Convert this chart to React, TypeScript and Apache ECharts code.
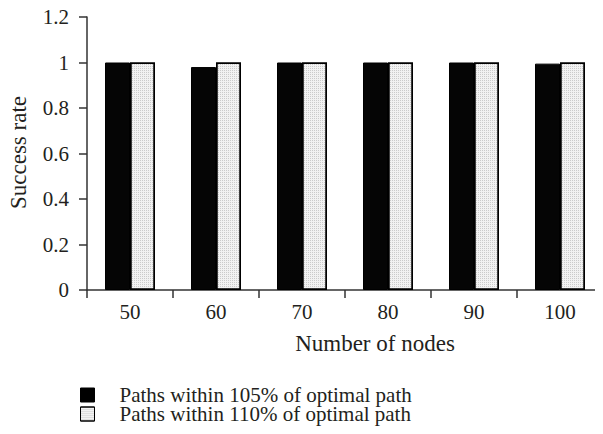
import React, { useEffect, useRef } from "react";
import * as echarts from "echarts";

const categories = ["50", "60", "70", "80", "90", "100"];
const within105 = [1, 0.98, 1, 1, 1, 0.995];
const within110 = [1, 1, 1, 1, 1, 1];
const seriesNames = ["Paths within 105% of optimal path", "Paths within 110% of optimal path"];
const xTitle = "Number of nodes";
const yTitle = "Success rate";

const FONT = "Liberation Serif";
const TXT = "#231f20";

const dotDecal = {
  symbol: "rect",
  symbolSize: 1,
  dashArrayX: [1, 1],
  dashArrayY: [1, 1],
  rotation: 0,
  color: "rgba(0,0,0,0.16)",
};

export default function App() {
  const ref = useRef<HTMLDivElement>(null);
  useEffect(() => {
    const chart = echarts.init(ref.current!, null, { renderer: "svg" });
    const legendBase = {
      orient: "vertical",
      left: 80,
      padding: 0,
      itemWidth: 14,
      itemHeight: 14,
      icon: "rect",
      textStyle: { fontFamily: FONT, fontSize: 21, lineHeight: 18, color: TXT, padding: [0, 0, 0, 20] },
    };
    chart.setOption({
      animation: false,
      backgroundColor: "#ffffff",
      textStyle: { fontFamily: FONT, color: TXT },
      grid: { left: 87, top: 17, width: 522, height: 273, containLabel: false },
      xAxis: {
        type: "category",
        data: categories,
        boundaryGap: true,
        axisLine: { lineStyle: { color: "#333", width: 1.5 } },
        axisTick: { show: true, length: 8, inside: false, lineStyle: { color: "#333", width: 1.5 } },
        axisLabel: { fontFamily: FONT, fontSize: 21, color: TXT, margin: 11 },
      },
      yAxis: {
        type: "value",
        min: 0,
        max: 1.2,
        interval: 0.2,
        splitLine: { show: false },
        axisLine: { show: true, lineStyle: { color: "#333", width: 1.5 } },
        axisTick: { show: true, length: 8, lineStyle: { color: "#333", width: 1.5 } },
        axisLabel: { fontFamily: FONT, fontSize: 21, color: TXT, margin: 18 },
      },
      legend: [
        {
          ...legendBase,
          top: 384.5,
          data: [{ name: seriesNames[0], itemStyle: { color: "#000", borderColor: "#000", borderWidth: 1 } }],
        },
        {
          ...legendBase,
          top: 403.5,
          data: [{ name: seriesNames[1], itemStyle: { color: "#f2f2f2", borderColor: "#000", borderWidth: 1 } }],
        },
      ],
      graphic: [
        {
          type: "text",
          x: 375,
          y: 343,
          style: { text: xTitle, fontFamily: FONT, fontSize: 23, fill: TXT, textAlign: "center", textVerticalAlign: "middle" },
        },
        {
          type: "text",
          x: 18,
          y: 152.5,
          rotation: Math.PI / 2,
          style: { text: yTitle, fontFamily: FONT, fontSize: 23, fill: TXT, textAlign: "center", textVerticalAlign: "middle" },
        },
      ],
      series: [
        {
          name: seriesNames[0],
          type: "bar",
          data: within105,
          barWidth: 25,
          barGap: "0%",
          itemStyle: { color: "#050505", borderColor: "#000", borderWidth: 1 },
        },
        {
          name: seriesNames[1],
          type: "bar",
          data: within110,
          barWidth: 25,
          barGap: "0%",
          itemStyle: { color: "#f2f2f2", borderColor: "#000", borderWidth: 1.5, decal: dotDecal },
        },
      ],
    });
    return () => chart.dispose();
  }, []);
  return <div ref={ref} style={{ width: 603, height: 434, margin: -8 }} />;
}
